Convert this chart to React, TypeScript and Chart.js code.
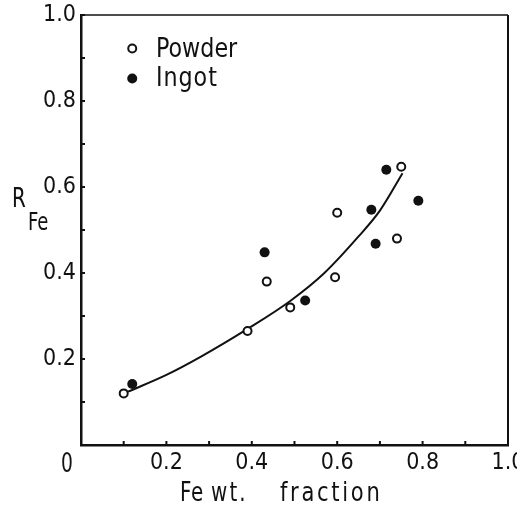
import React, { useEffect, useRef } from "react";
import { Chart, registerables } from "chart.js";

Chart.register(...registerables);

const powderX = [0.10, 0.39, 0.435, 0.49, 0.595, 0.60, 0.74, 0.75];
const powderY = [0.12, 0.265, 0.38, 0.32, 0.39, 0.54, 0.48, 0.647];
const ingotX = [0.12, 0.43, 0.525, 0.68, 0.69, 0.715, 0.79];
const ingotY = [0.142, 0.448, 0.336, 0.547, 0.468, 0.64, 0.568];
const curveX = [0.11, 0.2, 0.28, 0.39, 0.49, 0.57, 0.65, 0.70, 0.753];
const curveY = [0.124, 0.163, 0.205, 0.27, 0.335, 0.40, 0.485, 0.545, 0.632];
const xTitleWords = ["Fe", "wt.", "fraction"];
const yTitleMain = "R";
const yTitleSub = "Fe";
const seriesNames = ["Powder", "Ingot"];

const FONT = "'Liberation Sans Narrow', 'DejaVu Sans Condensed', sans-serif";
const INK = "#111";

const zip = (xs: number[], ys: number[]) => xs.map((x, i) => ({ x, y: ys[i] }));

const tickLabel = (v: number) => {
  const t = Math.round(v * 10);
  if (t === 0 || t % 2 !== 0) return "";
  return (t / 10).toFixed(1);
};

// draw text horizontally condensed, left edge at x
const narrowText = (ctx: any, text: string, x: number, y: number, sx: number, spacing = 0) => {
  ctx.save();
  ctx.translate(x, y);
  ctx.scale(sx, 1);
  ctx.textAlign = "left";
  if ("letterSpacing" in ctx) ctx.letterSpacing = `${spacing}px`;
  ctx.fillText(text, 0, 0);
  ctx.restore();
};

const decor = {
  id: "decor",
  afterDraw(chart: any) {
    const ctx = chart.ctx;
    const a = chart.chartArea;
    const xs = chart.scales.x;
    const ys = chart.scales.y;
    ctx.save();
    ctx.strokeStyle = INK;
    // top & right frame
    ctx.lineWidth = 1.5;
    ctx.beginPath();
    ctx.moveTo(a.left, a.top);
    ctx.lineTo(a.right, a.top);
    ctx.stroke();
    ctx.lineWidth = 2;
    ctx.beginPath();
    ctx.moveTo(a.right, a.top);
    ctx.lineTo(a.right, a.bottom);
    ctx.stroke();
    // inward ticks
    ctx.lineWidth = 2;
    xs.ticks.forEach((t: any) => {
      const px = xs.getPixelForValue(t.value);
      ctx.beginPath();
      ctx.moveTo(px, a.bottom);
      ctx.lineTo(px, a.bottom - 4);
      ctx.stroke();
    });
    ys.ticks.forEach((t: any) => {
      const py = ys.getPixelForValue(t.value);
      ctx.beginPath();
      ctx.moveTo(a.left, py);
      ctx.lineTo(a.left + 4, py);
      ctx.stroke();
    });
    ctx.fillStyle = INK;
    ctx.textBaseline = "alphabetic";
    ctx.font = `26px ${FONT}`;
    // origin label
    narrowText(ctx, "0", a.left - 20, a.bottom + 27, 0.8);
    // x title
    narrowText(ctx, xTitleWords[0], 180, 501, 0.85, 1);
    narrowText(ctx, xTitleWords[1], 211, 501, 0.85, 2.5);
    narrowText(ctx, xTitleWords[2], 280, 501, 0.9, 3);
    // y title
    narrowText(ctx, yTitleMain, 12, 207, 0.85);
    ctx.font = `25px ${FONT}`;
    narrowText(ctx, yTitleSub, 28, 230, 0.8);
    // legend
    ctx.font = `26px ${FONT}`;
    const lx = xs.getPixelForValue(0.12);
    ctx.lineWidth = 2;
    ctx.beginPath();
    ctx.arc(lx, 48.5, 4, 0, Math.PI * 2);
    ctx.fillStyle = "#fff";
    ctx.fill();
    ctx.stroke();
    ctx.fillStyle = INK;
    ctx.beginPath();
    ctx.arc(lx, 78.5, 5, 0, Math.PI * 2);
    ctx.fill();
    narrowText(ctx, seriesNames[0], 156, 57, 0.95);
    narrowText(ctx, seriesNames[1], 156, 86, 0.95, 1);
    ctx.restore();
  },
};

export default function App() {
  const ref = useRef<HTMLCanvasElement | null>(null);
  useEffect(() => {
    if (!ref.current) return;
    const chart = new Chart(ref.current, {
      type: "scatter",
      data: {
        datasets: [
          {
            label: seriesNames[0],
            data: zip(powderX, powderY),
            pointStyle: "circle",
            pointRadius: 4,
            pointBorderWidth: 2,
            pointBackgroundColor: "#fff",
            pointBorderColor: INK,
            showLine: false,
          },
          {
            label: seriesNames[1],
            data: zip(ingotX, ingotY),
            pointStyle: "circle",
            pointRadius: 5,
            pointBorderWidth: 0,
            pointBackgroundColor: INK,
            pointBorderColor: INK,
            showLine: false,
          },
          {
            label: "fit",
            data: zip(curveX, curveY),
            showLine: true,
            pointRadius: 0,
            borderColor: INK,
            borderWidth: 2,
            cubicInterpolationMode: "monotone",
            fill: false,
          },
        ],
      },
      options: {
        responsive: false,
        animation: false,
        layout: { padding: { top: 15, right: 9, left: 0, bottom: 0 } },
        plugins: { legend: { display: false }, tooltip: { enabled: false } },
        scales: {
          x: {
            type: "linear",
            min: 0,
            max: 1,
            border: { display: true, color: INK, width: 2.5 },
            grid: { display: false, drawTicks: false },
            ticks: {
              stepSize: 0.1,
              autoSkip: false,
              maxRotation: 0,
              padding: 4,
              color: INK,
              font: { family: FONT, size: 23 },
              callback: (v: any) => tickLabel(Number(v)),
            },
            afterFit: (s: any) => {
              s.height = 61;
              s.paddingLeft = 0;
              s.paddingRight = 0;
            },
          },
          y: {
            type: "linear",
            min: 0,
            max: 1,
            border: { display: true, color: INK, width: 2.5 },
            grid: { display: false, drawTicks: false },
            ticks: {
              stepSize: 0.1,
              autoSkip: false,
              padding: 5,
              color: INK,
              font: { family: FONT, size: 23 },
              callback: (v: any) => tickLabel(Number(v)),
            },
            afterFit: (s: any) => {
              s.width = 81;
              s.paddingTop = 0;
              s.paddingBottom = 0;
            },
          },
        },
      },
      plugins: [decor],
    } as any);
    return () => chart.destroy();
  }, []);
  return (
    <div style={{ position: "absolute", left: 0, top: 0, width: 517, height: 506, background: "#fff" }}>
      <canvas ref={ref} width={517} height={506} />
    </div>
  );
}
